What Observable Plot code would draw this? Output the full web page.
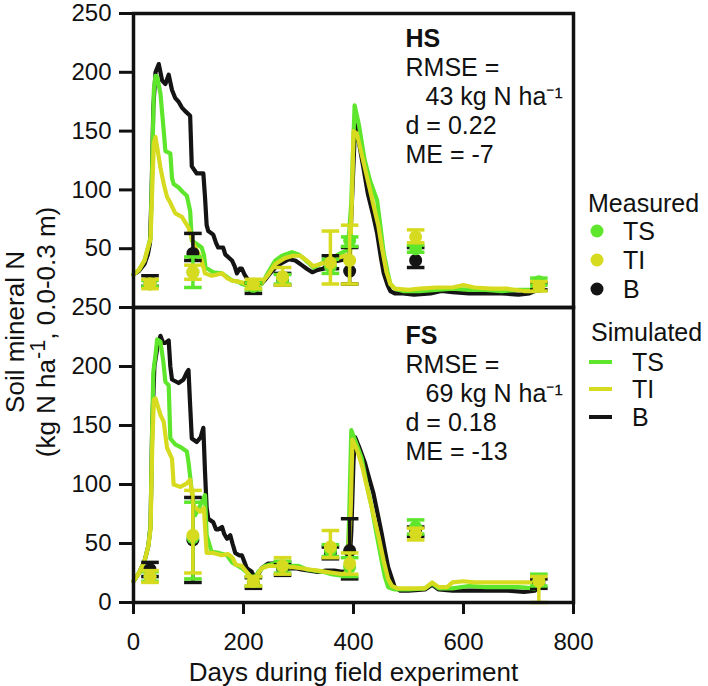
<!DOCTYPE html>
<html><head><meta charset="utf-8">
<script src="https://cdn.jsdelivr.net/npm/d3@7"></script>
<script src="https://cdn.jsdelivr.net/npm/@observablehq/plot@0.6"></script>
<style>
body{margin:0;background:#fff;font-family:"Liberation Sans",Arial,Helvetica,sans-serif;color:#111;}
#wrap{position:relative;width:708px;height:686px;overflow:hidden;background:#fff;}
.abs{position:absolute;white-space:nowrap;line-height:1;}
#wrap svg{overflow:visible;}
</style></head><body><div id="wrap"></div>
<script>
// ---------- data ----------
const xTicks = [0, 200, 400, 600, 800];
const yTicksTop = [50, 100, 150, 200, 250];
const yTicksBottom = [0, 50, 100, 150, 200, 250];
const treatments = ["TS", "TI", "B"];
const xTitle = "Days during field experiment";
const yTitle1 = "Soil mineral N";
const yTitle2 = "(kg N ha<sup>-1</sup>, 0.0-0.3 m)";

// simulated series, [day, kg N/ha]
const hsSimB = [[0,28],[10,31],[20,37],[26,45],[30,55],[33,100],[36,170],[40,200],[46,207],[52,193],[58,190],[64,198],[70,185],[76,178],[82,175],[88,170],[94,167],[103,163],[106,120],[115,114],[127,114],[130,94],[133,70],[136,65],[145,62],[150,55],[154,51],[163,51],[167,45],[172,43],[179,40],[184,35],[188,29],[193,33],[197,33],[202,28],[206,25],[212,20],[218,17],[224,18],[232,20],[240,24],[250,30],[258,34],[270,38],[282,41],[294,40],[300,38],[306,36],[315,33],[325,30],[335,32],[345,33],[355,37],[365,39],[375,40],[385,41],[393,42],[398,100],[403,156],[410,140],[418,119],[426,97],[435,80],[443,63],[450,42],[455,29],[462,19],[467,14],[475,12],[490,12],[510,11],[540,12],[560,14],[580,13],[610,12],[640,12],[670,12],[700,11],[720,12],[735,15],[745,20]];
const hsSimTS = [[0,28],[10,32],[20,40],[27,52],[31,60],[34,120],[37,185],[40,197],[43,196],[49,182],[55,150],[58,133],[67,131],[70,110],[73,105],[82,102],[90,98],[97,95],[103,82],[106,57],[115,54],[124,51],[128,45],[131,34],[145,30],[161,29],[170,26],[179,23],[190,22],[197,20],[205,19],[215,16],[222,17],[233,20],[245,30],[258,40],[270,44],[288,47],[300,45],[306,43],[318,38],[327,34],[340,37],[351,40],[365,43],[376,46],[390,49],[396,90],[402,172],[410,155],[420,126],[430,108],[443,91],[450,65],[455,46],[462,30],[467,20],[475,16],[490,14],[520,14],[550,15],[580,16],[610,15],[640,15],[670,14],[700,15],[720,15],[735,18],[745,22]];
const hsSimTI = [[0,28],[10,32],[20,40],[27,52],[31,58],[34,100],[37,140],[40,145],[49,119],[55,105],[61,94],[67,89],[76,80],[88,77],[100,68],[109,54],[118,46],[124,40],[130,29],[142,27],[152,28],[161,29],[170,25],[179,23],[190,22],[200,21],[215,17],[225,18],[233,21],[245,28],[258,37],[275,42],[290,44],[303,44],[315,40],[327,35],[340,37],[355,40],[370,42],[385,44],[394,45],[397,90],[400,150],[406,148],[415,130],[425,110],[435,90],[445,70],[452,50],[460,30],[467,20],[475,16],[500,15],[520,16],[550,17],[580,17],[600,19],[620,17],[650,16],[680,16],[710,14],[730,14],[740,20]];

const fsSimB = [[0,18],[10,25],[20,35],[27,48],[31,65],[34,150],[38,200],[44,218],[49,226],[54,220],[58,220],[64,222],[67,200],[70,189],[82,186],[91,189],[97,195],[100,197],[103,167],[106,139],[115,136],[122,140],[127,148],[130,111],[133,80],[136,71],[145,68],[150,62],[154,62],[161,64],[165,58],[170,54],[176,57],[180,50],[185,42],[192,40],[197,40],[202,34],[206,29],[215,26],[221,20],[227,24],[233,29],[245,33],[260,33],[270,32],[282,29],[295,29],[305,28],[320,27],[335,26],[350,27],[365,27],[380,26],[392,27],[396,60],[400,120],[403,140],[410,132],[421,118],[428,106],[436,93],[444,75],[451,59],[457,44],[463,30],[470,20],[475,13],[485,10],[500,10],[530,11],[543,15],[555,11],[580,10],[600,10],[620,10],[650,10],[680,10],[710,9],[730,10],[745,18]];
const fsSimTS = [[0,18],[10,25],[20,35],[27,48],[31,65],[34,150],[36,195],[40,210],[43,223],[49,221],[54,205],[58,187],[64,184],[67,139],[76,134],[88,131],[97,128],[100,119],[106,94],[112,74],[121,82],[130,91],[133,57],[142,43],[155,42],[170,40],[179,34],[190,31],[197,29],[207,25],[215,21],[222,22],[227,26],[239,31],[255,33],[270,33],[285,31],[300,31],[315,28],[330,27],[345,26],[360,24],[375,23],[388,25],[392,70],[396,146],[405,135],[415,122],[424,100],[433,81],[442,58],[451,36],[457,22],[463,13],[475,11],[500,11],[530,12],[543,16],[555,12],[580,12],[610,14],[640,13],[670,13],[700,13],[730,12],[745,20]];
const fsSimTI = [[0,18],[10,25],[20,35],[27,48],[31,62],[34,130],[37,172],[40,173],[49,159],[55,153],[61,131],[70,122],[73,100],[85,98],[97,101],[103,104],[109,82],[121,77],[128,80],[133,42],[145,42],[160,40],[172,41],[180,38],[186,32],[197,31],[207,25],[215,20],[222,21],[233,29],[245,31],[260,31],[275,30],[290,30],[305,29],[320,28],[335,27],[350,26],[365,25],[380,24],[390,26],[395,80],[398,138],[406,130],[416,115],[426,95],[436,75],[446,55],[455,35],[463,20],[470,14],[480,12],[500,12],[530,12],[543,17],[555,13],[570,13],[580,17],[600,18],[620,17],[650,17],[680,17],[710,17],[730,17],[740,22]];

// measured: sampling days; mean, lower and upper error-bar ends per treatment
const measDays = [30, 108, 218, 271, 358, 393, 513, 737];
const hsMeanTS = [20, 30, 18, 24, 35, 57, 50, 22];
const hsLoTS   = [18, 17, 15, 20, 29, 52, 47, 19];
const hsHiTS   = [23, 43, 21, 28, 41, 60, 53, 25];
const hsMeanTI = [20, 30, 20, 26, 38, 40, 60, 18];
const hsLoTI   = [16, 24, 16, 19, 20, 20, 55, 14];
const hsHiTI   = [24, 36, 24, 34, 65, 70, 66, 22];
const hsMeanB  = [22, 46, 17, 24, 40, 31, 40, 18];
const hsLoB    = [18, 40, 12, 19, 33, 20, 34, 15];
const hsHiB    = [27, 63, 21, 29, 44, 51, 51, 21];

const fsMeanTS = [22, 55, 18, 30, 44, 30, 64, 18];
const fsLoTS   = [18, 20, 14, 25, 39, 22, 58, 14];
const fsHiTS   = [26, 85, 22, 35, 49, 38, 70, 24];
const fsMeanTI = [22, 57, 18, 31, 47, 33, 58, 18];
const fsLoTI   = [17, 25, 14, 24, 38, 24, 53, 0];
const fsHiTI   = [27, 95, 22, 38, 61, 42, 63, 22];
const fsMeanB  = [28, 53, 17, 29, 42, 44, 60, 16];
const fsLoB    = [22, 17, 12, 23, 37, 20, 56, 12];
const fsHiB    = [34, 89, 21, 34, 47, 71, 64, 20];

const hsStats = ["HS", "RMSE =", "43 kg N ha⁻¹", "d = 0.22", "ME = -7"];
const fsStats = ["FS", "RMSE =", "69 kg N ha⁻¹", "d = 0.18", "ME = -13"];

// ---------- styling ----------
const FONT = "Liberation Sans, Arial, Helvetica, sans-serif";
const colors = {TS: "#5ee62c", TI: "#d7db1f", B: "#141414"};
const drawOrder = ["B", "TS", "TI"];
const capHalf = 16; // days
const W = 708, ML = 133, MR = 708 - 573;
const TXT = 25;

function rowsOf(pairs, trt) { return pairs.map(([day, value]) => ({day, value, trt})); }
function measOf(means, lo, hi, trt) { return measDays.map((day, i) => ({day, mean: means[i], lo: lo[i], hi: hi[i], trt})); }

function panel({sim, meas, stats, height, marginTop, marginBottom, yTicks, showX, statDy}) {
  const marks = [];
  for (const t of drawOrder) {
    marks.push(Plot.line(sim[t], {x: "day", y: "value", stroke: colors[t], strokeWidth: 4.2, strokeLinejoin: "round", strokeLinecap: "round"}));
  }
  for (const t of drawOrder) {
    const rows = meas[t];
    marks.push(Plot.ruleX(rows, {x: "day", y1: "lo", y2: "hi", stroke: colors[t], strokeWidth: 3.5}));
    marks.push(Plot.link(rows, {x1: d => d.day - capHalf, x2: d => d.day + capHalf, y1: "hi", y2: "hi", stroke: colors[t], strokeWidth: 3.5}));
    marks.push(Plot.link(rows, {x1: d => d.day - capHalf, x2: d => d.day + capHalf, y1: "lo", y2: "lo", stroke: colors[t], strokeWidth: 3.5}));
    marks.push(Plot.dot(rows, {x: "day", y: "mean", r: 6.5, fill: colors[t], stroke: "none"}));
  }
  marks.push(Plot.frame({stroke: "#111", strokeWidth: 3.5}));
  marks.push(Plot.axisY({ticks: yTicks, tickSize: 14, tickPadding: 8, fontSize: 24, strokeWidth: 3, label: null}));
  if (showX) {
    marks.push(Plot.axisX({ticks: xTicks, tickSize: 12, tickPadding: 18, fontSize: 24, strokeWidth: 3, label: null}));
    marks.push(Plot.text([xTitle], {frameAnchor: "bottom", dy: 70, fontSize: 26, lineAnchor: "middle", textAnchor: "middle"}));
  }
  const lineGap = 29;
  stats.forEach((s, i) => {
    marks.push(Plot.text([s], {
      frameAnchor: "top-left", dx: 272 + (i === 2 ? 20 : 0), dy: statDy + i * lineGap,
      textAnchor: "start", lineAnchor: "middle", fontSize: TXT,
      fontWeight: i === 0 ? "bold" : "normal"
    }));
  });
  return Plot.plot({
    width: W, height, marginLeft: ML, marginRight: MR, marginTop, marginBottom,
    style: {fontFamily: FONT, color: "#111", background: "transparent", overflow: "visible"},
    x: {domain: [0, 800], axis: null},
    y: {domain: [0, 250], axis: null},
    marks
  });
}

const wrap = document.getElementById("wrap");

const topPanel = panel({
  sim: {B: rowsOf(hsSimB, "B"), TS: rowsOf(hsSimTS, "TS"), TI: rowsOf(hsSimTI, "TI")},
  meas: {B: measOf(hsMeanB, hsLoB, hsHiB, "B"), TS: measOf(hsMeanTS, hsLoTS, hsHiTS, "TS"), TI: measOf(hsMeanTI, hsLoTI, hsHiTI, "TI")},
  stats: hsStats, height: 307, marginTop: 13, marginBottom: 0, yTicks: yTicksTop, showX: false, statDy: 25
});
topPanel.style.position = "absolute"; topPanel.style.left = "0px"; topPanel.style.top = "0px";
wrap.appendChild(topPanel);

const bottomPanel = panel({
  sim: {B: rowsOf(fsSimB, "B"), TS: rowsOf(fsSimTS, "TS"), TI: rowsOf(fsSimTI, "TI")},
  meas: {B: measOf(fsMeanB, fsLoB, fsHiB, "B"), TS: measOf(fsMeanTS, fsLoTS, fsHiTS, "TS"), TI: measOf(fsMeanTI, fsLoTI, fsHiTI, "TI")},
  stats: fsStats, height: 379, marginTop: 0, marginBottom: 84, yTicks: yTicksBottom, showX: true, statDy: 28
});
bottomPanel.style.position = "absolute"; bottomPanel.style.left = "0px"; bottomPanel.style.top = "307px";
wrap.appendChild(bottomPanel);

function addRotated(html, cx, cy) {
  const d = document.createElement("div");
  d.className = "abs";
  d.innerHTML = html;
  d.style.fontSize = "26px";
  d.style.left = cx + "px"; d.style.top = cy + "px";
  d.style.transform = "translate(-50%,-50%) rotate(-90deg)";
  wrap.appendChild(d);
}
addRotated(yTitle1, 15, 332);
addRotated(yTitle2, 43, 332);

function addText(txt, left, cy) {
  const d = document.createElement("div");
  d.className = "abs";
  d.textContent = txt;
  d.style.fontSize = TXT + "px";
  d.style.left = left + "px"; d.style.top = (cy - 12) + "px";
  wrap.appendChild(d);
}
function addSwatch(svgInner, cx, cy) {
  const ns = "http://www.w3.org/2000/svg";
  const s = document.createElementNS(ns, "svg");
  s.setAttribute("width", 30); s.setAttribute("height", 20);
  s.style.position = "absolute"; s.style.left = (cx - 15) + "px"; s.style.top = (cy - 10) + "px";
  s.innerHTML = svgInner;
  wrap.appendChild(s);
}
const measY = [231, 260, 289];
addText("Measured", 588, 203);
treatments.forEach((t, i) => {
  addSwatch(`<circle cx="15" cy="10" r="6.5" fill="${colors[t]}"/>`, 597, measY[i]);
  addText(t, 623, measY[i]);
});
const simY = [362, 389, 417];
addText("Simulated", 591, 332);
treatments.forEach((t, i) => {
  addSwatch(`<line x1="3" x2="26" y1="10" y2="10" stroke="${colors[t]}" stroke-width="4"/>`, 601, simY[i]);
  addText(t, 632, simY[i]);
});
</script>
</body></html>
